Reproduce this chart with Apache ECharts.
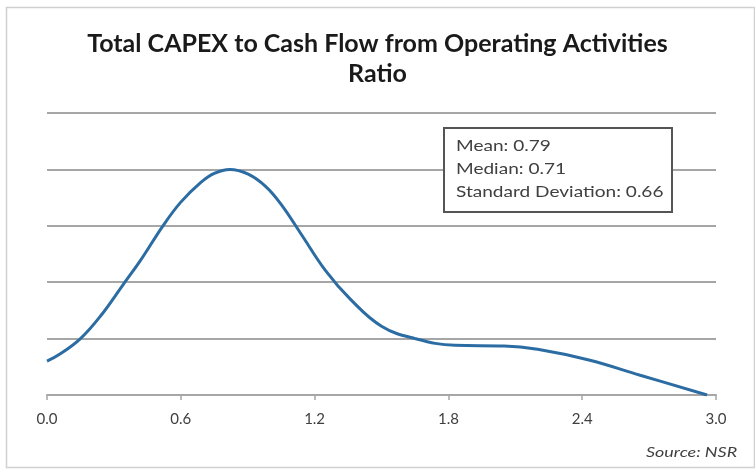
<!DOCTYPE html>
<html><head><meta charset="utf-8">
<script src="https://cdn.jsdelivr.net/npm/echarts@6/dist/echarts.min.js"></script>
<style>html,body{margin:0;padding:0;background:#fff}#c{width:755px;height:469px}</style>
</head><body><div id="c"></div>
<script>
const titleText = 'Total CAPEX to Cash Flow from Operating Activities\nRatio';
const ratioX  = [0, 0.06, 0.15, 0.24, 0.34, 0.42, 0.52, 0.6, 0.69, 0.75, 0.82, 0.9, 0.98, 1.05, 1.14, 1.25, 1.36, 1.5, 1.65, 1.83, 2.05, 2.2, 2.43, 2.66, 2.96];
const density = [0.6, 0.73, 1.0, 1.4, 1.95, 2.39, 3.0, 3.42, 3.77, 3.93, 4.0, 3.92, 3.7, 3.38, 2.85, 2.2, 1.7, 1.22, 1.0, 0.88, 0.87, 0.81, 0.62, 0.35, 0.0];
const xTicks = ['0.0','0.6','1.2','1.8','2.4','3.0'];
const statLines = ['Mean: 0.79', 'Median: 0.71', 'Standard Deviation: 0.66'];
const sourceText = 'Source: NSR';

const chart = echarts.init(document.getElementById('c'));
chart.setOption({
  animation: false,
  title: {
    text: titleText, left: 'center', top: 24,
    textStyle: { fontFamily: 'Lato', fontWeight: 'bold', fontSize: 25, color: '#1a1a1a', lineHeight: 30 }
  },
  grid: { left: 47, right: 39, top: 113, bottom: 74 },
  xAxis: {
    type: 'value', min: 0, max: 3, interval: 0.6,
    axisLine: { show: true, lineStyle: { color: '#a6a6a6', width: 2 } },
    axisTick: { show: true, length: 5, lineStyle: { color: '#a6a6a6', width: 1.5 } },
    splitLine: { show: false },
    axisLabel: { color: '#404040', fontSize: 15, fontFamily: 'Lato', margin: 17,
      formatter: v => xTicks[Math.round(v / 0.6)] }
  },
  yAxis: {
    type: 'value', min: 0, max: 5, interval: 1,
    axisLine: { show: false }, axisTick: { show: false }, axisLabel: { show: false },
    splitLine: { show: true, lineStyle: { color: '#a6a6a6', width: 2 } }
  },
  series: [{
    type: 'line', smooth: 0.4, symbol: 'none',
    lineStyle: { color: '#2b6ca3', width: 3 },
    data: ratioX.map((x, i) => [x, density[i]])
  }],
  graphic: [
    { type: 'rect', left: 4, top: 5, shape: { width: 748, height: 460 }, style: { fill: 'none', stroke: '#d0d0d0', lineWidth: 1.5 }, z: 0 },
    { type: 'rect', left: 443, top: 127, shape: { width: 228, height: 84 }, style: { fill: '#fff', stroke: '#555', lineWidth: 2 }, z: 10 },
    { type: 'text', x: 456, y: 135, scaleX: 1.27, z: 11,
      style: { text: statLines.join('\n'), fill: '#404040', font: '15px Lato', lineHeight: 23 } },
    { type: 'text', x: 646, y: 445, scaleX: 1.28, z: 11,
      style: { text: sourceText, fill: '#404040', font: 'italic 14px Lato' } }
  ]
});
</script></body></html>
